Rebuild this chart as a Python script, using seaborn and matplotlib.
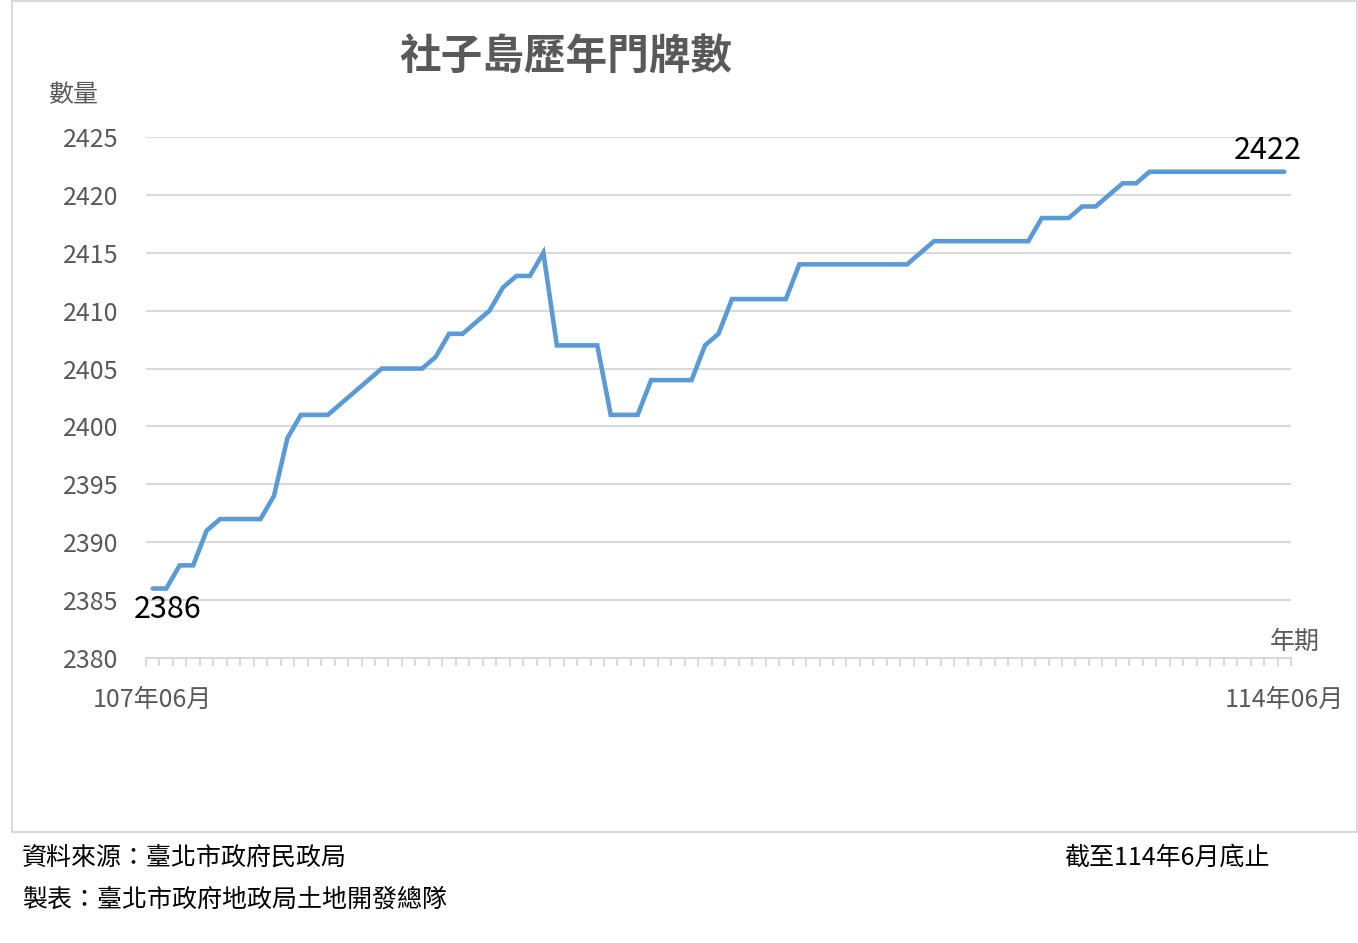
import matplotlib
matplotlib.use("Agg")
import matplotlib.pyplot as plt
from matplotlib.patches import Rectangle
import seaborn as sns
import pandas as pd
import numpy as np

# ---- data ----
start_label = "107年06月"
end_label = "114年06月"
values = [
    2386, 2386, 2388, 2388, 2391, 2392, 2392, 2392, 2392, 2394,
    2399, 2401, 2401, 2401, 2402, 2403, 2404, 2405, 2405, 2405,
    2405, 2406, 2408, 2408, 2409, 2410, 2412, 2413, 2413, 2415,
    2407, 2407, 2407, 2407, 2401, 2401, 2401, 2404, 2404, 2404,
    2404, 2407, 2408, 2411, 2411, 2411, 2411, 2411, 2414, 2414,
    2414, 2414, 2414, 2414, 2414, 2414, 2414, 2415, 2416, 2416,
    2416, 2416, 2416, 2416, 2416, 2416, 2418, 2418, 2418, 2419,
    2419, 2420, 2421, 2421, 2422, 2422, 2422, 2422, 2422, 2422,
    2422, 2422, 2422, 2422, 2422,
]
y_ticks = [2380, 2385, 2390, 2395, 2400, 2405, 2410, 2415, 2420, 2425]
title = "社子島歷年門牌數"
y_title = "數量"
x_title = "年期"
source_text = "資料來源：臺北市政府民政局"
maker_text = "製表：臺北市政府地政局土地開發總隊"
date_text = "截至114年6月底止"

sns.set_theme(style="white")
plt.rcParams['font.family'] = ['Noto Sans CJK TC', 'DejaVu Sans']

W, H = 1358, 943
fig = plt.figure(figsize=(W / 100, H / 100), dpi=100)
fig.patch.set_facecolor("white")

# chart border
fig.add_artist(Rectangle((12 / W, 1 - 832 / H), (1357 - 12) / W, (832 - 1) / H,
                         transform=fig.transFigure, fill=False,
                         edgecolor="#d9d9d9", linewidth=1.5))

ax = fig.add_axes([146 / W, 1 - 658 / H, (1291 - 146) / W, (658 - 137) / H])
df = pd.DataFrame({"idx": np.arange(len(values)), "value": values})
gray = "#595959"
grid_c = "#d9d9d9"
fs = 18

sns.lineplot(data=df, x="idx", y="value", ax=ax, color="#5b9bd5",
             linewidth=3.3, solid_capstyle="round", solid_joinstyle="miter")

ax.set_ylim(y_ticks[0], y_ticks[-1])
ax.set_xlim(-0.5, len(values) - 0.5)
ax.set_yticks(y_ticks)
ax.set_yticklabels([str(v) for v in y_ticks], color=gray, fontsize=fs)
for v in y_ticks[1:]:
    ax.axhline(v, color=grid_c, linewidth=1.5, zorder=0)

ax.set_xticks([0, len(values) - 1])
ax.set_xticklabels([start_label, end_label], color=gray, fontsize=fs)
ax.set_xticks(np.arange(-0.5, len(values), 1.0), minor=True)
ax.tick_params(axis="x", which="major", length=0, pad=21)
ax.tick_params(axis="x", which="minor", length=6, width=1.5, color=grid_c,
               direction="out", bottom=True)
ax.tick_params(axis="y", length=0, pad=20)
for s in ["top", "right", "left"]:
    ax.spines[s].set_visible(False)
ax.spines["bottom"].set_color(grid_c)
ax.spines["bottom"].set_linewidth(1.5)
ax.set_xlabel("")
ax.set_ylabel("")

# data labels
ax.annotate(str(values[0]), xy=(0, values[0]), xytext=(11, -15),
            textcoords="offset points", ha="center", va="center",
            fontsize=22, color="black")
ax.annotate(str(values[-1]), xy=(len(values) - 1, values[-1]), xytext=(-12, 15),
            textcoords="offset points", ha="center", va="center",
            fontsize=22, color="black")

# titles
fig.text(566 / W, 1 - 57 / H, title, ha="center", va="center",
         fontsize=30, fontweight="bold", color=gray)
fig.text(73 / W, 1 - 95 / H, y_title, ha="center", va="center",
         fontsize=fs, color=gray)
fig.text(1295 / W, 1 - 642 / H, x_title, ha="center", va="center",
         fontsize=fs, color=gray)

# footer
fig.text(22 / W, 1 - 858 / H, source_text, ha="left", va="center",
         fontsize=fs, color="black")
fig.text(22 / W, 1 - 900 / H, maker_text, ha="left", va="center",
         fontsize=fs, color="black")
fig.text(1270 / W, 1 - 858 / H, date_text, ha="right", va="center",
         fontsize=fs, color="black")

fig.savefig("out.png", dpi=100, facecolor="white")
